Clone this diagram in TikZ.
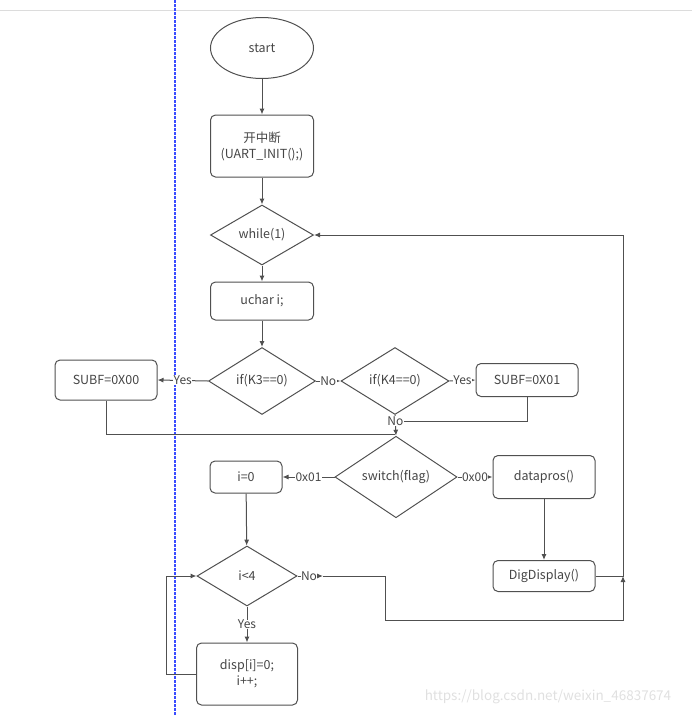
\documentclass[tikz,border=0pt]{standalone}
\usepackage{fontspec}
\setmainfont{Noto Sans CJK SC}
\usepackage{tikz}
\usetikzlibrary{shapes.geometric,arrows.meta}
\definecolor{flowline}{HTML}{505050}
\definecolor{flowtext}{HTML}{454545}
\definecolor{guideblue}{HTML}{3a4cff}
\definecolor{pagerule}{HTML}{dcdcdc}
\definecolor{markgray}{HTML}{e0e0e0}
\tikzset{
  box/.style={draw=flowline,line width=1pt,rounded corners=5pt,align=center,
    text=flowtext,font=\fontsize{12.5}{16}\selectfont,inner sep=0pt},
  term/.style={draw=flowline,line width=1pt,ellipse,text=flowtext,
    font=\fontsize{12.5}{16}\selectfont,inner sep=0pt},
  test/.style={draw=flowline,line width=1pt,diamond,text=flowtext,
    font=\fontsize{12.5}{16}\selectfont,inner sep=0pt},
  wire/.style={draw=flowline,line width=1pt},
  flow/.style={wire,-{Latex[length=6pt,width=5pt]}},
  tag/.style={fill=white,text=flowtext,font=\fontsize{12}{13}\selectfont,inner sep=0.5pt}
}
\begin{document}
\begin{tikzpicture}[x=1pt,y=-1pt]
  \useasboundingbox (0,0) rectangle (693,716);
  \draw[pagerule,line width=1pt] (0,10) -- (692,10);
  \draw[guideblue,line width=1.2pt,dash pattern=on 2.5pt off 1.5pt] (175,0) -- (175,716);
  \node[markgray,font=\fontsize{13.5}{15}\selectfont] (mark) at (548,697) {https://blog.csdn.net/weixin\_46837674};

  \node[term,minimum width=103,minimum height=61] (start) at (262,48) {start};
  \node[box,minimum width=103,minimum height=62] (init) at (262,146) {开中断\\(UART\_INIT();)};
  \node[test,minimum width=103,minimum height=60] (loop) at (262,235) {while(1)};
  \node[box,minimum width=103,minimum height=38] (decl) at (262,301) {uchar i;};
  \node[test,minimum width=107,minimum height=67] (kthree) at (262,381) {if(K3==0)};
  \node[box,minimum width=102,minimum height=40] (subfa) at (106,380) {SUBF=0X00};
  \node[test,minimum width=108,minimum height=67] (kfour) at (395,381) {if(K4==0)};
  \node[box,minimum width=102,minimum height=33] (subfb) at (527,380) {SUBF=0X01};
  \node[test,minimum width=122,minimum height=61] (sw) at (396,477) {switch(flag)};
  \node[box,minimum width=72,minimum height=32] (izero) at (246,477) {i=0};
  \node[box,minimum width=102,minimum height=43] (dpro) at (544,477) {datapros()};
  \node[box,minimum width=102,minimum height=31] (dig) at (544,576) {DigDisplay()};
  \node[test,minimum width=100,minimum height=60] (lt) at (247,576) {i<4};
  \node[box,minimum width=101,minimum height=62] (disp) at (247,674) {disp[i]=0;\\i++;};

  \coordinate (merge) at (395,434);
  \coordinate (ltno) at (323,576);
  \coordinate (rail) at (623,576);

  \draw[flow] (start) -- (init);
  \draw[flow] (init) -- (loop);
  \draw[flow] (loop) -- (decl);
  \draw[flow] (decl) -- (kthree);
  \draw[flow] (kthree.west) -- node[tag]{Yes} (subfa.east);
  \draw[flow] (kthree.east) -- node[tag]{No} (kfour.west);
  \draw[flow] (kfour.east) -- node[tag]{Yes} (subfb.west);
  \draw[flow] (kfour.south) -- node[tag,pos=0.3] (kfourno) {No} (sw.north);
  \draw[wire] (subfb.south) |- (kfourno.east);
  \draw[wire] (subfa.south) |- (merge);
  \draw[flow] (sw.west) -- node[tag]{0x01} (izero.east);
  \draw[flow] (sw.east) -- node[tag]{0x00} (dpro.west);
  \draw[flow] (dpro) -- (dig);
  \draw[flow] (izero) -- (lt);
  \draw[flow] (lt.south) -- node[tag]{Yes} (disp.north);
  \draw[flow] (disp.west) -- ++(-30,0) |- (lt.west);
  \draw[flow] (lt.east) -- node[tag,pos=0.45]{No} (ltno);
  \draw[flow] (ltno) -- ++(62,0) -- ++(0,44) -| (rail);
  \draw[flow] (dig.east) -- (rail) |- (loop.east);
\end{tikzpicture}
\end{document}
